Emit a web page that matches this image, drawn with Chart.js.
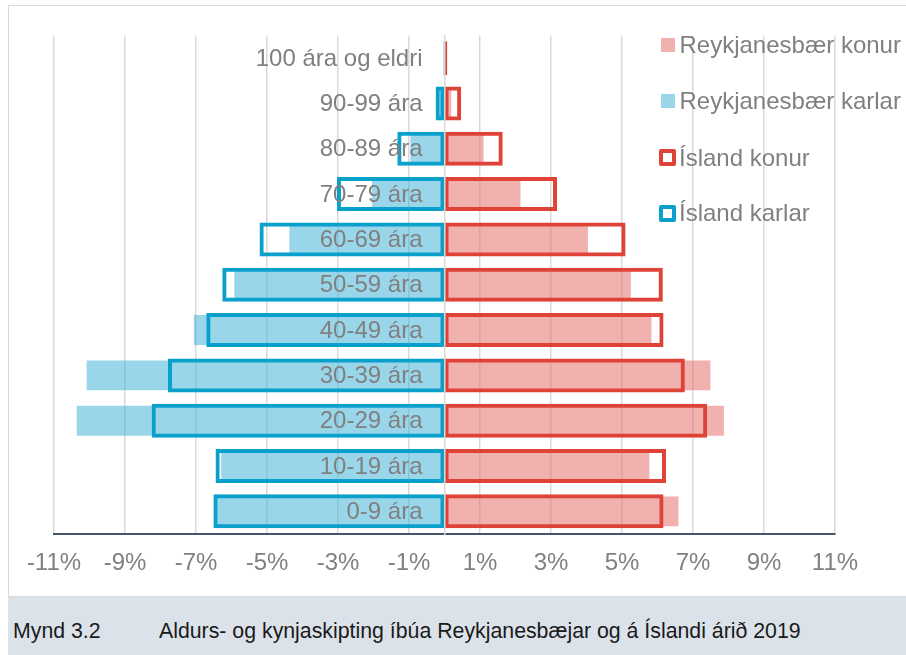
<!DOCTYPE html>
<html>
<head>
<meta charset="utf-8">
<script src="https://cdn.jsdelivr.net/npm/chart.js@4.4.1/dist/chart.umd.min.js"></script>
<style>
  body { margin:0; background:#fff; width:906px; height:655px; overflow:hidden; position:relative;
         font-family:"Liberation Sans", Arial, sans-serif; }
  #frame { position:absolute; left:8px; top:5px; width:910px; height:592px; border:1.5px solid #d9d9d9; box-sizing:border-box; }
  #wrap { position:absolute; left:0; top:0; width:906px; height:597px; }
  .item { position:absolute; left:659px; height:30px; display:flex; align-items:center; white-space:nowrap;
          font-size:24px; color:#808080; }
  .sw { display:inline-block; box-sizing:border-box; }
  #caption { position:absolute; left:8px; top:597px; width:898px; height:58px; background:#dce2e9;
             color:#1a1a1a; font-size:21.3px; }
  #caption span { position:absolute; top:34px; transform:translateY(-50%); white-space:nowrap; }
</style>
</head>
<body>
<div id="frame"></div>
<div id="wrap"><canvas id="pyramid" width="906" height="597"></canvas></div>
<div id="legend"></div>
<div id="caption">
  <span style="left:5px">Mynd 3.2</span>
  <span style="left:151px">Aldurs- og kynjaskipting íbúa Reykjanesbæjar og á Íslandi árið 2019</span>
</div>
<script>
/* ── Data (% of population, men negative) ───────────── */
const ageGroups = ['0-9 ára','10-19 ára','20-29 ára','30-39 ára','40-49 ára','50-59 ára',
                   '60-69 ára','70-79 ára','80-89 ára','90-99 ára','100 ára og eldri'];
const reykKonur  = [6.59, 5.77, 7.87, 7.49, 5.83, 5.25, 4.04, 2.14, 1.10, 0.19, 0.03];
const reykKarlar = [-6.42, -6.29, -10.36, -10.08, -7.06, -5.92, -4.37, -2.04, -0.96, -0.14, -0.01];
const islKonur   = [6.17, 6.24, 7.40, 6.77, 6.17, 6.15, 5.10, 3.17, 1.64, 0.47, 0.08];
const islKarlar  = [-6.51, -6.45, -8.25, -7.79, -6.71, -6.26, -5.21, -3.03, -1.33, -0.25, -0.03];
const xTickValues = [-11, -9, -7, -5, -3, -1, 1, 3, 5, 7, 9, 11];
const seriesNames = ['Reykjanesbær konur', 'Reykjanesbær karlar', 'Ísland konur', 'Ísland karlar'];

const FONT = '"Liberation Sans", Arial, sans-serif';
const GREY = '#808080';
const RED = '#df4237', BLUE = '#0aa0cc';

/* filled bars (Reykjanesbær) sit under the outlined bars (Ísland) */
const fillBar    = { grouped:false, barPercentage:0.66, categoryPercentage:1, borderWidth:0, order:2 };
const outlineBar = { grouped:false, barPercentage:0.75, categoryPercentage:1, borderWidth:4,
                     borderSkipped:false, backgroundColor:'rgba(0,0,0,0)', order:1 };

const datasets = [
  { ...fillBar,    label:seriesNames[0], data:reykKonur,  backgroundColor:'rgba(229,115,110,0.55)' },
  { ...fillBar,    label:seriesNames[1], data:reykKarlar, backgroundColor:'rgba(70,180,215,0.55)' },
  { ...outlineBar, label:seriesNames[2], data:islKonur,   borderColor:RED },
  { ...outlineBar, label:seriesNames[3], data:islKarlar,  borderColor:BLUE },
];

/* category names drawn just left of the zero line */
const ageLabels = {
  id: 'ageLabels',
  afterDatasetsDraw(chart) {
    const { ctx, scales: { x, y } } = chart;
    ctx.save();
    ctx.font = `24px ${FONT}`;
    ctx.fillStyle = GREY;
    ctx.textAlign = 'right';
    ctx.textBaseline = 'middle';
    const x0 = x.getPixelForValue(0) - 22;
    ageGroups.forEach((g, i) => ctx.fillText(g, x0, y.getPixelForValue(i) + 1));
    ctx.restore();
  }
};

new Chart(document.getElementById('pyramid'), {
  type: 'bar',
  data: { labels: ageGroups, datasets },
  plugins: [ageLabels],
  options: {
    indexAxis: 'y',
    responsive: false,
    devicePixelRatio: 1,
    animation: false,
    layout: { padding: { left:54, right:71, top:35.5, bottom:0 } },
    plugins: { legend: { display:false }, tooltip: { enabled:false } },
    scales: {
      x: {
        type: 'linear', min: -11, max: 11,
        afterBuildTicks: s => { s.ticks = xTickValues.map(v => ({ value: v })); },
        afterFit: s => { s.height = 63; },
        grid: { color:'#d9d9d9', lineWidth:1.5, drawTicks:false },
        border: { color:'#44546a', width:2 },
        ticks: { padding:15, color:GREY, font:{ size:24, family:FONT }, callback: v => v + '%' }
      },
      y: {
        type: 'category', reverse: true, position: { x: 0 },
        grid: { display:false },
        border: { color:'#d9d9d9', width:1.5, z:1 },
        ticks: { display:false }
      }
    }
  }
});

/* ── Legend ─────────────────────────────────────────── */
const legendRows = [45, 101, 157.5, 213];
document.getElementById('legend').innerHTML = datasets.map((d, i) => {
  const sw = d.borderWidth
    ? `<span class="sw" style="width:17px;height:17px;border:4.5px solid ${d.borderColor};border-radius:2px;background:#fff;margin-right:3px"></span>`
    : `<span class="sw" style="width:13.5px;height:13.5px;background:${d.backgroundColor};margin:0 5px 0 2px"></span>`;
  return `<div class="item" style="top:${legendRows[i] - 15}px">${sw}<span>${d.label}</span></div>`;
}).join('');
</script>
</body>
</html>
